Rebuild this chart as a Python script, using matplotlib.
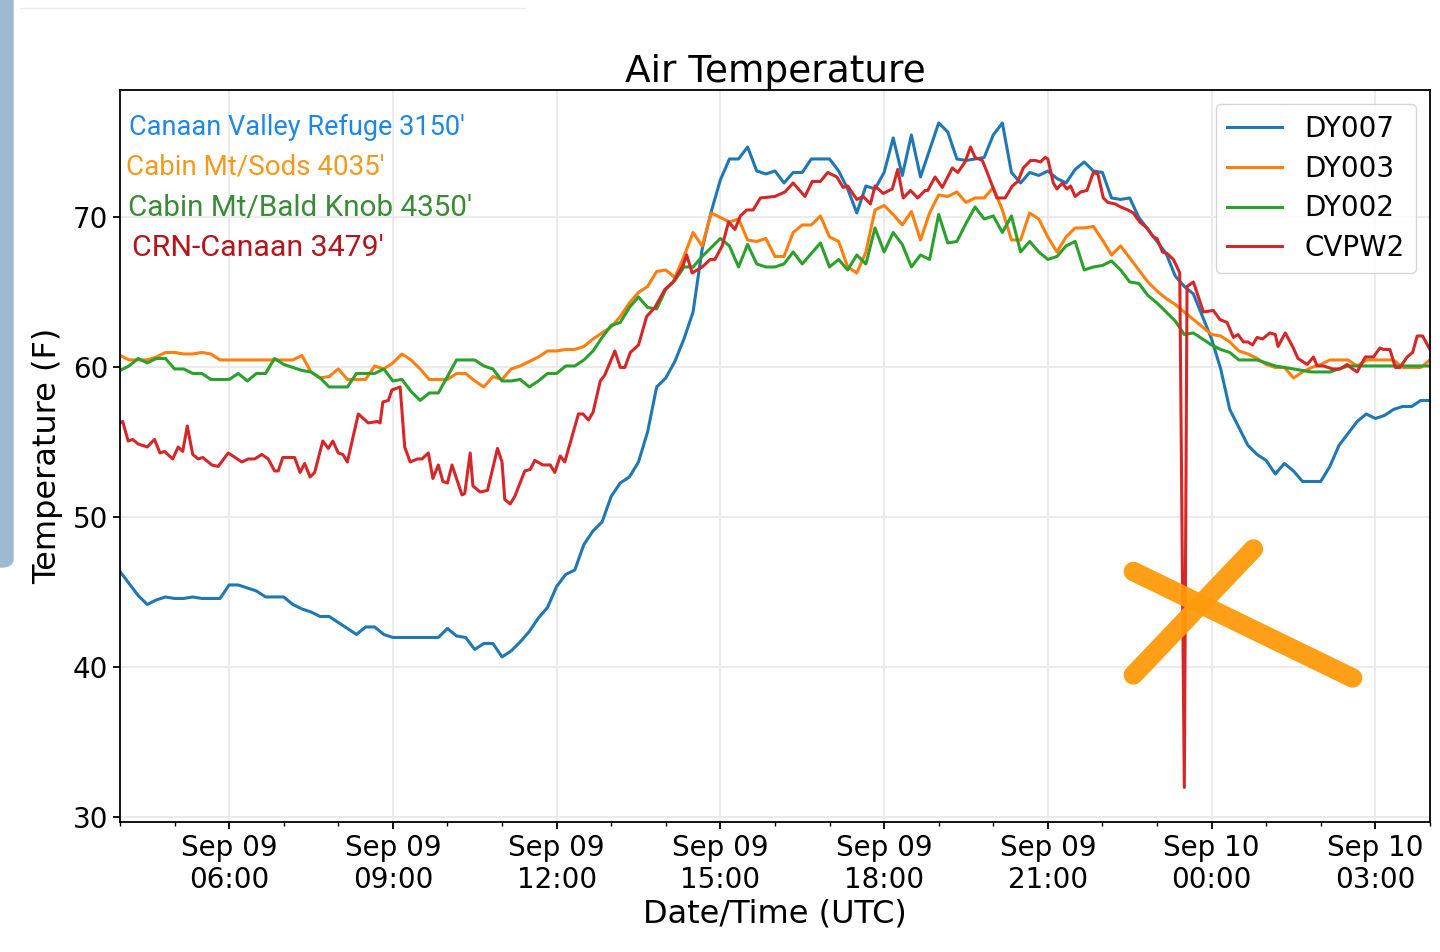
import pandas as pd
import matplotlib
matplotlib.use("Agg")
import matplotlib.pyplot as plt
import matplotlib.dates as mdates
from matplotlib.patches import FancyBboxPatch
from matplotlib.lines import Line2D

# 10-minute readings starting Sep 09 04:00 UTC
start = "2019-09-09 04:00"

dy007 = [46.4, 45.6, 44.8, 44.2, 44.5, 44.7,
         44.6, 44.6, 44.7, 44.6, 44.6, 44.6,
         45.5, 45.5, 45.3, 45.1, 44.7, 44.7,
         44.7, 44.2, 43.9, 43.7, 43.4, 43.4,
         43.0, 42.6, 42.2, 42.7, 42.7, 42.2,
         42.0, 42.0, 42.0, 42.0, 42.0, 42.0,
         42.6, 42.1, 42.0, 41.2, 41.6, 41.6,
         40.7, 41.1, 41.7, 42.4, 43.3, 44.0,
         45.4, 46.2, 46.5, 48.2, 49.1, 49.7,
         51.4, 52.3, 52.7, 53.7, 55.7, 58.7,
         59.3, 60.4, 61.9, 63.7, 67.9, 70.4,
         72.5, 73.9, 73.9, 74.7, 73.1, 72.9,
         73.1, 72.3, 73.0, 73.0, 73.9, 73.9,
         73.9, 73.1, 71.9, 70.3, 72.1, 71.9,
         73.0, 75.3, 72.8, 75.5, 72.7, 74.5,
         76.3, 75.7, 73.9, 73.8, 73.9, 74.0,
         75.5, 76.3, 73.0, 72.3, 73.0, 72.8,
         73.1, 72.6, 72.3, 73.2, 73.7, 73.1,
         73.0, 71.3, 71.2, 71.3, 70.0, 69.2,
         68.4, 67.6, 66.1, 65.4, 64.9, 63.4,
         61.9, 59.9, 57.2, 56.0, 54.8, 54.2,
         53.8, 52.9, 53.6, 53.1, 52.4, 52.4,
         52.4, 53.4, 54.8, 55.6, 56.4, 56.9,
         56.6, 56.8, 57.2, 57.4, 57.4, 57.8,
         57.8]

dy003 = [60.8, 60.5, 60.5, 60.5, 60.7, 61.0,
         61.0, 60.9, 60.9, 61.0, 60.9, 60.5,
         60.5, 60.5, 60.5, 60.5, 60.5, 60.5,
         60.5, 60.5, 60.8, 59.7, 59.3, 59.4,
         59.9, 59.2, 59.2, 59.2, 60.1, 59.9,
         60.3, 60.9, 60.5, 59.9, 59.2, 59.2,
         59.2, 59.6, 59.6, 59.1, 58.7, 59.4,
         59.2, 59.9, 60.1, 60.4, 60.7, 61.1,
         61.1, 61.2, 61.2, 61.4, 61.9, 62.3,
         62.7, 63.4, 64.3, 65.0, 65.4, 66.4,
         66.5, 66.0, 67.4, 69.0, 68.1, 70.3,
         70.0, 69.7, 69.9, 68.5, 68.4, 68.6,
         67.4, 67.4, 69.0, 69.5, 69.5, 70.1,
         68.7, 68.4, 66.7, 66.3, 67.7, 70.5,
         70.8, 70.2, 69.5, 70.4, 68.5, 70.3,
         71.5, 71.4, 71.7, 71.0, 71.3, 71.3,
         72.0, 70.5, 68.5, 68.5, 70.3, 69.9,
         68.7, 67.7, 68.7, 69.3, 69.3, 69.4,
         68.5, 67.5, 68.1, 67.3, 66.5, 65.7,
         65.1, 64.6, 64.2, 63.7, 63.2, 62.7,
         62.2, 62.1, 61.7, 61.1, 60.9, 60.6,
         60.2, 60.0, 60.0, 59.3, 59.7, 60.0,
         60.2, 60.5, 60.5, 60.5, 60.1, 60.5,
         60.5, 60.5, 60.5, 60.0, 60.0, 60.0,
         60.5]

dy002 = [59.8, 60.1, 60.6, 60.3, 60.6, 60.6,
         59.9, 59.9, 59.6, 59.6, 59.2, 59.2,
         59.2, 59.6, 59.1, 59.6, 59.6, 60.6,
         60.2, 60.0, 59.8, 59.7, 59.3, 58.7,
         58.7, 58.7, 59.6, 59.6, 59.6, 59.9,
         59.1, 59.2, 58.4, 57.8, 58.3, 58.3,
         59.4, 60.5, 60.5, 60.5, 60.1, 59.9,
         59.1, 59.1, 59.2, 58.7, 59.1, 59.6,
         59.6, 60.1, 60.1, 60.5, 61.1, 62.0,
         62.8, 63.0, 64.0, 64.7, 64.0, 63.9,
         65.2, 65.8, 66.7, 66.7, 67.4, 68.0,
         68.6, 68.1, 66.7, 68.2, 66.9, 66.7,
         66.7, 66.9, 67.7, 66.9, 67.6, 68.3,
         66.7, 67.2, 66.5, 67.5, 66.9, 69.3,
         67.7, 69.0, 68.2, 66.7, 67.5, 67.2,
         70.2, 68.3, 68.4, 69.6, 70.7, 69.9,
         70.1, 69.0, 70.1, 67.7, 68.4, 67.7,
         67.2, 67.4, 68.1, 68.4, 66.5, 66.7,
         66.8, 67.1, 66.5, 65.7, 65.6, 64.8,
         64.3, 63.7, 63.1, 62.2, 62.3, 61.9,
         61.5, 61.2, 61.0, 60.5, 60.5, 60.5,
         60.3, 60.1, 60.0, 59.9, 59.8, 59.7,
         59.7, 59.7, 59.9, 60.1, 60.1, 60.1,
         60.1, 60.1, 60.1, 60.1, 60.1, 60.1,
         60.1]

# CVPW2 (CRN) reports more often: (minutes after start, value)
cvpw2_pts = [
    (0, 56.3), (3, 56.4), (9, 55.1), (14, 55.2), (20, 54.9), (30, 54.7), (38, 55.2),
    (44, 54.3), (49, 54.4), (58, 53.9), (64, 54.7), (69, 54.4), (74, 56.1), (80, 54.2),
    (86, 53.9), (91, 54.0), (101, 53.5), (108, 53.4), (119, 54.3), (129, 53.9),
    (134, 53.7), (141, 53.9), (148, 53.9), (156, 54.2), (163, 53.9), (170, 53.1),
    (174, 53.1), (179, 54.0), (192, 54.0), (198, 53.0), (203, 53.6), (209, 52.7),
    (214, 53.0), (223, 55.1), (229, 54.6), (234, 55.1), (240, 54.3), (245, 54.2),
    (250, 53.7), (262, 56.9), (273, 56.3), (283, 56.4), (286, 56.3), (289, 57.7),
    (295, 57.8), (299, 58.5), (308, 58.7), (313, 54.7), (319, 53.7), (327, 53.9),
    (332, 53.9), (339, 54.3), (344, 52.6), (350, 53.5), (355, 52.4), (360, 52.3),
    (365, 53.5), (376, 51.5), (379, 51.6), (385, 54.3), (388, 52.1), (396, 51.7),
    (404, 51.8), (415, 54.6), (420, 53.7), (423, 51.2), (429, 50.9), (434, 51.4),
    (445, 53.1), (451, 53.2), (456, 53.8), (465, 53.5), (473, 53.5), (478, 53.0),
    (484, 54.1), (489, 53.7), (497, 55.4), (504, 56.9), (509, 56.9), (515, 56.5),
    (520, 57.0), (528, 59.1), (533, 59.5), (544, 61.1), (550, 60.0), (555, 60.0),
    (561, 61.0), (570, 61.5), (579, 63.4), (588, 64.0), (599, 65.2), (608, 65.7),
    (619, 66.8), (623, 67.5), (629, 66.3), (640, 66.7), (649, 67.2), (654, 67.2),
    (662, 68.1), (669, 69.7), (676, 69.2), (682, 70.1), (689, 70.5), (696, 70.5),
    (704, 71.3), (720, 71.4), (731, 71.7), (740, 72.3), (753, 71.4), (761, 72.4),
    (770, 72.4), (778, 73.0), (788, 72.7), (795, 72.0), (800, 72.1), (810, 71.2),
    (817, 71.4), (825, 70.9), (830, 72.1), (839, 71.6), (849, 71.9), (855, 73.2),
    (861, 71.3), (869, 71.8), (877, 71.3), (885, 71.8), (888, 71.8), (896, 72.7),
    (904, 72.0), (915, 73.3), (921, 73.0), (929, 73.7), (935, 74.7), (940, 74.0),
    (948, 73.8), (954, 72.9), (964, 71.3), (973, 71.3), (981, 72.1), (987, 72.4),
    (993, 73.3), (1001, 73.8), (1006, 73.8), (1012, 73.7), (1017, 74.0), (1020, 73.9),
    (1026, 72.3), (1030, 71.9), (1036, 72.3), (1041, 71.9), (1045, 72.1), (1050, 71.4),
    (1056, 71.7), (1063, 71.8), (1070, 73.0), (1075, 72.9), (1081, 71.3), (1086, 71.0),
    (1094, 70.9), (1100, 70.7), (1108, 70.5), (1114, 70.3), (1121, 69.7), (1129, 69.3),
    (1136, 68.7), (1140, 68.6), (1146, 67.7), (1151, 67.6), (1158, 67.2), (1162, 66.7),
    (1165, 66.3), (1170, 32.0), (1173, 65.4), (1180, 65.7), (1191, 63.7), (1202, 63.8),
    (1209, 63.2), (1217, 63.0), (1224, 62.0), (1229, 62.2), (1235, 61.7), (1240, 61.7),
    (1245, 61.5), (1250, 62.0), (1256, 61.9), (1264, 62.3), (1270, 62.2), (1273, 61.4),
    (1281, 62.3), (1289, 61.4), (1295, 60.6), (1305, 60.2), (1312, 60.7), (1316, 60.1),
    (1323, 60.1), (1333, 59.9), (1341, 59.9), (1349, 60.2), (1355, 59.9), (1360, 59.7),
    (1369, 60.7), (1378, 60.7), (1385, 61.3), (1389, 61.2), (1396, 61.2), (1402, 60.0),
    (1407, 60.0), (1415, 60.7), (1421, 61.0), (1426, 62.1), (1432, 62.1), (1440, 61.2),
]
cvpw2_min = [p[0] for p in cvpw2_pts]
cvpw2 = [p[1] for p in cvpw2_pts]

station_names = ["Canaan Valley Refuge 3150'", "Cabin Mt/Sods 4035'",
                 "Cabin Mt/Bald Knob 4350'", "CRN-Canaan 3479'"]
station_colors = ["#1f86ea", "#f39a1c", "#3a8a38", "#b3161a"]

# hand-drawn orange cross over the dropout
cross_a = (["2019-09-09 22:34", "2019-09-10 02:35"], [46.4, 39.3])
cross_b = (["2019-09-09 22:34", "2019-09-10 00:46"], [39.5, 47.9])

t10 = pd.date_range(start, periods=len(dy007), freq="10min")
t_crn = pd.Timestamp(start) + pd.to_timedelta(cvpw2_min, unit="min")

fig = plt.figure(figsize=(14.4, 9.52), dpi=100)
ax = fig.add_axes([0.0833, 0.1366, 0.9097, 0.7689])

lw = 2.2
ax.plot(t10, dy007, color="#1f77b4", lw=lw, label="DY007")
ax.plot(t10, dy003, color="#ff7f0e", lw=lw, label="DY003")
ax.plot(t10, dy002, color="#2ca02c", lw=lw, label="DY002")
ax.plot(t_crn, cvpw2, color="#d62728", lw=lw, label="CVPW2")

ax.set_xlim(pd.Timestamp(start), pd.Timestamp(start) + pd.Timedelta(hours=24))
ax.set_ylim(29.7, 78.5)
ax.set_yticks([30, 40, 50, 60, 70])

ax.xaxis.set_major_locator(mdates.HourLocator(byhour=range(0, 24, 3)))
ax.xaxis.set_minor_locator(mdates.HourLocator())
ax.xaxis.set_major_formatter(mdates.DateFormatter("%b %d\n%H:%M"))

ax.grid(True, which="major", color="#ebebeb", lw=1.5)
ax.set_axisbelow(True)
ax.tick_params(which="major", labelsize=20, length=5, width=1.3)
ax.tick_params(which="minor", length=3, width=1.0)
for s in ax.spines.values():
    s.set_linewidth(1.3)

ax.set_title("Air Temperature", fontsize=27, pad=6)
ax.set_xlabel("Date/Time (UTC)", fontsize=23, labelpad=3)
ax.set_ylabel("Temperature (F)", fontsize=23, labelpad=7)

leg = ax.legend(loc="upper right", fontsize=20, labelspacing=0.42,
                handlelength=2.0, handletextpad=0.8, edgecolor="#cccccc",
                borderaxespad=0.5)

text_pos = [(0.007, 0.9385), (0.0046, 0.885), (0.0061, 0.828), (0.0092, 0.773)]
text_size = [19.5, 20.0, 21.3, 21.8]
for name, col, (tx, ty), fs in zip(station_names, station_colors, text_pos, text_size):
    ax.text(tx, ty, name, color=col, fontsize=fs, family=["Roboto", "DejaVu Sans"],
            transform=ax.transAxes, va="baseline", ha="left")

for xs, ys in (cross_a, cross_b):
    ax.plot(pd.to_datetime(xs), ys, color="#ff9a0a", lw=14,
            solid_capstyle="round", alpha=0.95, zorder=5)

# screenshot decorations
fig.patches.append(FancyBboxPatch((-0.02, 1 - 567 / 952), 0.02 + 13 / 1440, 567 / 952 + 0.05,
                                  boxstyle="round,pad=0,rounding_size=0.008",
                                  transform=fig.transFigure, color="#a0b9d3"))
fig.add_artist(Line2D([20 / 1440, 525 / 1440], [1 - 8 / 952, 1 - 8 / 952],
                      transform=fig.transFigure, color="#ececec", lw=1))

fig.savefig("out.png", dpi=100)
